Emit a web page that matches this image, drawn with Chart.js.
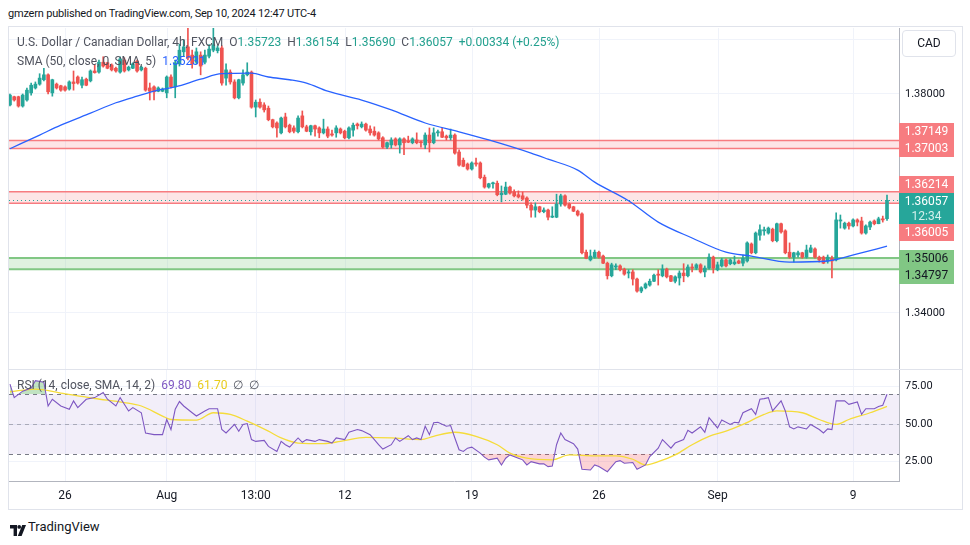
<!DOCTYPE html>
<html><head><meta charset="utf-8">
<script src="https://cdn.jsdelivr.net/npm/chart.js@4.4.0/dist/chart.umd.min.js"></script>
<style>
body{margin:0;background:#fff;width:970px;height:545px;overflow:hidden;font-family:Roboto,"Liberation Sans",sans-serif;color:#131722;position:relative}
.abs{position:absolute;white-space:nowrap}
.tag{position:absolute;left:899px;width:55px;height:17px;line-height:17px;font-size:12px;color:#fff;text-align:center}
.hl{position:absolute;background:#e0e3eb}
</style></head><body>
<div class="abs" style="left:8px;top:7px;font-size:11px;letter-spacing:-0.2px;color:#131722">gmzern published on TradingView.com, Sep 10, 2024 12:47 UTC-4</div>
<div class="abs" style="left:8px;top:26px;width:955px;height:484px;border:1px solid #e0e3eb;box-sizing:border-box"></div>
<div class="abs" style="left:9px;top:28px;width:953px;height:342px"><canvas id="c1" width="953" height="342"></canvas></div>
<div class="hl" style="left:9px;top:369px;width:953px;height:1px"></div>
<div class="abs" style="left:9px;top:370px;width:953px;height:139px"><canvas id="c2" width="953" height="139"></canvas></div>

<div class="abs" style="left:17px;top:35px;font-size:12px;color:#50535e">U.S. Dollar / Canadian Dollar, 4h, FXCM&nbsp;&nbsp;O<span style="color:#22a08e">1.35723</span>&nbsp;&nbsp;H<span style="color:#22a08e">1.36154</span>&nbsp;&nbsp;L<span style="color:#22a08e">1.35690</span>&nbsp;&nbsp;C<span style="color:#22a08e">1.36057</span>&nbsp;&nbsp;<span style="color:#22a08e">+0.00334 (+0.25%)</span></div>
<div class="abs" style="left:17px;top:54px;font-size:12px;color:#50535e">SMA (50, close, 0, SMA, 5)&nbsp;&nbsp;<span style="color:#2962ff">1.35231</span></div>
<div class="abs" style="left:17px;top:378px;font-size:12px;color:#50535e">RSI (14, close, SMA, 14, 2)&nbsp;&nbsp;<span style="color:#7e57c2">69.80</span>&nbsp;&nbsp;<span style="color:#e8cc1c">61.70</span>&nbsp;&nbsp;∅&nbsp;&nbsp;∅</div>

<div class="abs" style="left:902px;top:30px;width:54px;height:27px;border:1px solid #e0e3eb;border-radius:4px;box-sizing:border-box;font-size:12px;line-height:25px;text-align:center">CAD</div>

<div class="tag" style="top:123px;background:#f77c80">1.37149</div>
<div class="tag" style="top:140px;background:#f77c80">1.37003</div>
<div class="tag" style="top:176px;background:#f77c80">1.36214</div>
<div class="tag" style="top:193px;height:31px;background:#26a69a;line-height:15px;padding-top:1px;box-sizing:border-box">1.36057<br><span style="color:#d3f0ec">12:34</span></div>
<div class="tag" style="top:224px;background:#f77c80">1.36005</div>
<div class="tag" style="top:250px;background:#81c784;color:#131722">1.35006</div>
<div class="tag" style="top:267px;background:#81c784;color:#131722">1.34797</div>

<div class="abs" style="left:10px;top:521px"><svg width="16" height="11" viewBox="0 0 16 11"><path d="M0 0h7v11H3.6V3.4H0z" fill="#131722"/><circle cx="9.2" cy="1.9" r="1.9" fill="#131722"/><path d="M12.2 0h3.8l-4.4 11H7.8z" fill="#131722"/></svg></div>
<div class="abs" style="left:28px;top:519px;font-size:13px;color:#131722">TradingView</div>

<script>
// ---------- data ----------
const candleOpen = [
1.3780,1.3795,1.3795,1.3778,1.3789,1.3802,1.3811,1.3818,1.3826,1.3835,
1.3802,1.3818,1.3815,1.3813,1.3809,1.3822,1.3831,1.3816,1.3827,1.3824,
1.3842,1.3840,1.3858,1.3857,1.3853,1.3847,1.3840,1.3862,1.3844,1.3847,
1.3860,1.3844,1.3847,1.3811,1.3813,1.3805,1.3805,1.3802,1.3831,1.3813,
1.3855,1.3877,1.3886,1.3871,1.3858,1.3871,1.3858,1.3869,1.3880,1.3879,
1.3884,1.3829,1.3840,1.3822,1.3793,1.3820,1.3835,1.3840,1.3776,1.3785,
1.3780,1.3774,1.3753,1.3747,1.3729,1.3758,1.3743,1.3738,1.3731,1.3760,
1.3740,1.3731,1.3742,1.3738,1.3729,1.3736,1.3727,1.3729,1.3736,1.3732,
1.3720,1.3734,1.3745,1.3740,1.3745,1.3736,1.3732,1.3729,1.3720,1.3703,
1.3707,1.3718,1.3707,1.3718,1.3714,1.3711,1.3716,1.3712,1.3707,1.3725,
1.3711,1.3729,1.3731,1.3723,1.3720,1.3725,1.3694,1.3679,1.3672,1.3663,
1.3674,1.3674,1.3648,1.3630,1.3636,1.3637,1.3616,1.3617,1.3630,1.3621,
1.3616,1.3614,1.3610,1.3597,1.3588,1.3594,1.3585,1.3588,1.3575,1.3575,
1.3599,1.3614,1.3599,1.3594,1.3586,1.3581,1.3511,1.3497,1.3502,1.3511,
1.3504,1.3491,1.3468,1.3484,1.3486,1.3480,1.3473,1.3475,1.3462,1.3440,
1.3446,1.3451,1.3458,1.3471,1.3468,1.3480,1.3468,1.3458,1.3464,1.3473,
1.3468,1.3484,1.3482,1.3488,1.3475,1.3482,1.3502,1.3479,1.3486,1.3497,
1.3490,1.3490,1.3495,1.3491,1.3495,1.3526,1.3510,1.3542,1.3550,1.3546,
1.3553,1.3532,1.3563,1.3550,1.3511,1.3502,1.3506,1.3510,1.3502,1.3511,
1.3517,1.3502,1.3502,1.3495,1.3500,1.3497,1.3568,1.3555,1.3564,1.3559,
1.3570,1.3568,1.3546,1.3557,1.3568,1.3563,1.3572,1.35723];
const candleHigh = [
1.3800,1.3796,1.3796,1.3800,1.3811,1.3820,1.3822,1.3837,1.3847,1.3837,
1.3827,1.3820,1.3816,1.3815,1.3824,1.3842,1.3833,1.3831,1.3829,1.3844,
1.3853,1.3862,1.3868,1.3858,1.3855,1.3849,1.3868,1.3866,1.3851,1.3857,
1.3862,1.3851,1.3849,1.3820,1.3815,1.3813,1.3811,1.3833,1.3835,1.3862,
1.3891,1.3899,1.3922,1.3880,1.3884,1.3877,1.3880,1.3890,1.3921,1.3888,
1.3888,1.3855,1.3844,1.3826,1.3827,1.3844,1.3857,1.3842,1.3789,1.3791,
1.3784,1.3778,1.3754,1.3749,1.3758,1.3765,1.3745,1.3742,1.3760,1.3769,
1.3743,1.3743,1.3743,1.3740,1.3754,1.3740,1.3734,1.3742,1.3738,1.3734,
1.3740,1.3747,1.3747,1.3749,1.3747,1.3742,1.3740,1.3731,1.3722,1.3712,
1.3720,1.3720,1.3720,1.3720,1.3723,1.3720,1.3729,1.3714,1.3729,1.3738,
1.3738,1.3734,1.3738,1.3725,1.3736,1.3727,1.3698,1.3683,1.3674,1.3676,
1.3683,1.3676,1.3652,1.3637,1.3639,1.3641,1.3632,1.3639,1.3632,1.3625,
1.3623,1.3621,1.3612,1.3601,1.3601,1.3595,1.3592,1.3590,1.3594,1.3617,
1.3617,1.3616,1.3601,1.3595,1.3588,1.3583,1.3515,1.3515,1.3515,1.3513,
1.3506,1.3493,1.3491,1.3490,1.3488,1.3482,1.3479,1.3479,1.3464,1.3448,
1.3455,1.3462,1.3471,1.3479,1.3488,1.3482,1.3469,1.3468,1.3477,1.3490,
1.3488,1.3490,1.3490,1.3490,1.3486,1.3508,1.3504,1.3493,1.3500,1.3499,
1.3499,1.3504,1.3497,1.3506,1.3530,1.3528,1.3548,1.3561,1.3557,1.3557,
1.3555,1.3564,1.3564,1.3552,1.3528,1.3511,1.3513,1.3511,1.3524,1.3524,
1.3519,1.3504,1.3504,1.3506,1.3504,1.3583,1.3579,1.3566,1.3566,1.3572,
1.3572,1.3575,1.3561,1.3568,1.3570,1.3575,1.3577,1.36154];
const candleLow = [
1.3778,1.3787,1.3776,1.3776,1.3787,1.3798,1.3809,1.3816,1.3824,1.3800,
1.3796,1.3809,1.3805,1.3805,1.3807,1.3807,1.3818,1.3811,1.3815,1.3822,
1.3838,1.3838,1.3849,1.3846,1.3842,1.3840,1.3838,1.3840,1.3842,1.3846,
1.3840,1.3842,1.3805,1.3789,1.3789,1.3804,1.3804,1.3793,1.3811,1.3793,
1.3851,1.3869,1.3862,1.3847,1.3855,1.3835,1.3855,1.3866,1.3877,1.3875,
1.3816,1.3816,1.3818,1.3791,1.3791,1.3816,1.3833,1.3774,1.3758,1.3774,
1.3767,1.3751,1.3738,1.3721,1.3727,1.3738,1.3729,1.3729,1.3729,1.3738,
1.3731,1.3725,1.3723,1.3720,1.3727,1.3720,1.3723,1.3721,1.3727,1.3718,
1.3718,1.3723,1.3736,1.3738,1.3732,1.3725,1.3723,1.3716,1.3701,1.3700,
1.3701,1.3705,1.3692,1.3689,1.3711,1.3709,1.3709,1.3703,1.3700,1.3694,
1.3709,1.3723,1.3720,1.3716,1.3716,1.3690,1.3668,1.3667,1.3661,1.3661,
1.3668,1.3645,1.3628,1.3628,1.3628,1.3614,1.3603,1.3616,1.3617,1.3612,
1.3610,1.3606,1.3592,1.3575,1.3575,1.3583,1.3583,1.3570,1.3574,1.3574,
1.3595,1.3595,1.3590,1.3585,1.3577,1.3508,1.3499,1.3495,1.3500,1.3500,
1.3490,1.3462,1.3466,1.3479,1.3477,1.3469,1.3464,1.3451,1.3438,1.3437,
1.3444,1.3449,1.3457,1.3451,1.3466,1.3464,1.3457,1.3455,1.3451,1.3457,
1.3466,1.3475,1.3479,1.3473,1.3466,1.3480,1.3473,1.3477,1.3484,1.3484,
1.3488,1.3488,1.3490,1.3486,1.3493,1.3508,1.3508,1.3533,1.3542,1.3544,
1.3530,1.3530,1.3546,1.3508,1.3500,1.3493,1.3502,1.3500,1.3500,1.3510,
1.3500,1.3493,1.3490,1.3491,1.3464,1.3495,1.3555,1.3553,1.3553,1.3557,
1.3559,1.3544,1.3544,1.3552,1.3561,1.3563,1.3566,1.35690];
const candleClose = [
1.3798,1.3789,1.3778,1.3798,1.3807,1.3816,1.3818,1.3829,1.3835,1.3804,
1.3826,1.3811,1.3807,1.3807,1.3822,1.3819,1.3820,1.3826,1.3816,1.3842,
1.3839,1.3858,1.3851,1.3847,1.3844,1.3842,1.3864,1.3842,1.3849,1.3855,
1.3842,1.3849,1.3807,1.3805,1.3804,1.3811,1.3809,1.3831,1.3813,1.3857,
1.3880,1.3886,1.3866,1.3855,1.3877,1.3851,1.3871,1.3882,1.3890,1.3884,
1.3820,1.3844,1.3822,1.3793,1.3826,1.3835,1.3840,1.3776,1.3785,1.3776,
1.3771,1.3753,1.3740,1.3738,1.3756,1.3740,1.3731,1.3732,1.3756,1.3740,
1.3732,1.3742,1.3736,1.3729,1.3736,1.3723,1.3725,1.3738,1.3729,1.3720,
1.3738,1.3743,1.3742,1.3745,1.3734,1.3729,1.3725,1.3718,1.3703,1.3711,
1.3716,1.3707,1.3718,1.3711,1.3712,1.3718,1.3711,1.3711,1.3725,1.3711,
1.3729,1.3731,1.3721,1.3720,1.3725,1.3692,1.3670,1.3668,1.3663,1.3674,
1.3672,1.3647,1.3630,1.3636,1.3637,1.3616,1.3619,1.3630,1.3619,1.3614,
1.3612,1.3608,1.3597,1.3588,1.3594,1.3585,1.3588,1.3575,1.3577,1.3599,
1.3614,1.3597,1.3592,1.3586,1.3579,1.3510,1.3500,1.3504,1.3511,1.3502,
1.3491,1.3468,1.3488,1.3486,1.3479,1.3471,1.3475,1.3462,1.3440,1.3446,
1.3453,1.3458,1.3469,1.3469,1.3480,1.3466,1.3458,1.3466,1.3473,1.3468,
1.3484,1.3482,1.3488,1.3475,1.3482,1.3502,1.3482,1.3488,1.3497,1.3486,
1.3497,1.3493,1.3491,1.3500,1.3528,1.3510,1.3546,1.3552,1.3552,1.3555,
1.3532,1.3563,1.3548,1.3510,1.3502,1.3510,1.3510,1.3502,1.3515,1.3519,
1.3502,1.3497,1.3491,1.3502,1.3495,1.3570,1.3570,1.3564,1.3559,1.3570,
1.3566,1.3546,1.3559,1.3566,1.3563,1.3572,1.3570,1.36057];

const smaIdx = [0,7,12,19,25,30,35,39,45,50,57,61,66,70,75,83,90,98,106,113,123,127,134,138,146,153,161,169,175,184,193,200,207];
const smaVal = [1.3700,1.3725,1.3743,1.3765,1.3784,1.3796,1.3807,1.3813,1.3827,1.3837,1.3838,1.3831,1.3826,1.3820,1.3805,1.3789,1.3771,1.3747,1.3731,1.3716,1.3692,1.3681,1.3661,1.3639,1.3605,1.3566,1.3537,1.3511,1.3504,1.3493,1.3495,1.3508,1.3522];

const rsiIdx = [0,1,3,5,6,8,9,10,12,14,15,16,18,20,22,23,25,26,28,29,31,32,34,36,37,38,39,40,41,43,44,46,47,49,50,51,53,54,55,56,57,58,60,61,63,64,65,66,68,69,70,72,73,75,76,77,79,80,82,83,85,86,87,88,90,91,92,94,95,96,97,98,99,100,101,103,104,105,106,107,108,109,111,112,113,115,116,117,118,120,121,122,123,125,126,127,128,129,130,131,133,134,135,137,138,139,141,143,144,145,147,148,150,151,153,154,156,157,159,160,161,163,164,165,167,168,170,171,172,173,175,176,177,178,179,180,182,183,184,185,186,188,189,191,192,193,194,195,197,198,200,201,202,204,205,206,207];
const rsiVal = [76.6,67.6,71.9,74,78.9,77.8,62,66.5,62,59.8,65.4,60.9,66.5,67.6,71,66.5,62,67.6,58.7,60.9,57.5,44,42.9,42.9,53,46.3,59.8,65,62,57.5,55.3,58.7,60.2,60.2,46.3,44,49.7,45.2,49.7,50.3,39.6,38.4,39.1,35.1,31.7,38.4,36.2,34.6,40.7,37.8,39.6,38.4,39.6,38.4,37.3,40.7,39.6,44.5,46.3,45.6,42.9,39.6,36.2,33.3,36.2,40.7,38.4,42.2,39.6,40.7,39.6,48.5,42.9,50.8,51.2,48.5,49,40.7,32.8,31.7,33.9,34.6,30.6,27.9,26.1,27.2,22.7,27.2,29.4,27.2,26.1,22.7,24.9,23.4,23.4,21.6,22,36.2,44,39.6,36.9,33.3,19.8,19.3,22.7,21.6,18.2,24.9,25.6,23.8,24.3,19.8,22.7,28.3,33.9,39.6,33.9,37.3,39.6,45.8,44,48.1,44.5,54.2,47.4,52.6,49.7,51.2,50.8,57.5,60.2,56.4,66.5,66.9,67.6,58.7,65.4,58.7,48.1,46.7,48.1,46.7,49.7,46.3,44,46.7,46.3,65.4,65.4,63.1,64.7,56.4,60.2,60.2,61.6,62.5,69.8];

const rsiMaIdx = [0,6,12,20,27,31,36,38,44,48,52,56,61,64,68,74,78,84,90,97,100,105,110,115,118,122,128,132,138,143,147,150,153,157,161,165,169,173,178,181,187,191,195,198,203,207];
const rsiMaVal = [71.5,73.3,70.6,67,64.3,62,55.3,53,52.6,57.5,56.4,51.9,45.2,40.7,37.3,36.9,38.4,41.1,40.7,39.6,41.8,44.5,41.8,36.2,30.6,27.2,26.1,29.4,28.8,28.8,26.5,22.7,24.9,29.4,36.2,41.8,45.2,49.7,56.4,58.7,57.5,53,49.7,53,57.5,61.7];

const zoneLow  = [1.37003, 1.36005, 1.34797];
const zoneHigh = [1.37149, 1.36214, 1.35006];
const zoneKind = ['res', 'res', 'sup'];
const lastPrice = 1.36057;

const timeTickIdx = [13, 37, 58, 79, 109, 139, 167, 199];
const timeTickLbl = ['26', 'Aug', '13:00', '12', '19', '26', 'Sep', '9'];
const priceTicks = [1.34, 1.35, 1.36, 1.37, 1.38, 1.39];
const priceTickShown = [1.34, 1.38];
const rsiTicks = [25, 50, 75];

// ---------- styling ----------
const UP = '#26a69a', DOWN = '#ef5350';
const GRID = '#f0f3fa';
const XMIN = -0.23, XMAX = 209.83;
const FONT = {family: 'Roboto', size: 11};

const colors = candleClose.map((c, i) => c >= candleOpen[i] ? UP : DOWN);
const wickData = candleOpen.map((o, i) => ({x: i, y: [candleLow[i], candleHigh[i]]}));
const bodyData = candleOpen.map((o, i) => ({x: i, y: [o, candleClose[i]]}));
const smaData = smaIdx.map((x, k) => ({x, y: smaVal[k]}));
const rsiData = rsiIdx.map((x, k) => ({x, y: rsiVal[k]}));
const rsiMaData = rsiMaIdx.map((x, k) => ({x, y: rsiMaVal[k]}));

const noPad = s => { s.paddingTop = 0; s.paddingBottom = 0; s.paddingLeft = 0; s.paddingRight = 0; };

const zonesPlugin = {
  id: 'zones',
  beforeDatasetsDraw(chart) {
    const {ctx, chartArea: a, scales: {x, y}} = chart;
    ctx.save();
    ctx.strokeStyle = GRID; ctx.lineWidth = 1;
    timeTickIdx.forEach(v => {
      const p = Math.round(x.getPixelForValue(v)) + 0.5;
      ctx.beginPath(); ctx.moveTo(p, a.top); ctx.lineTo(p, a.bottom); ctx.stroke();
    });
    zoneLow.forEach((lo, k) => {
      const t = y.getPixelForValue(zoneHigh[k]), b = y.getPixelForValue(lo);
      const sup = zoneKind[k] === 'sup';
      ctx.fillStyle = sup ? 'rgba(129,199,132,0.25)' : 'rgba(247,124,128,0.2)';
      ctx.fillRect(a.left, t, a.right - a.left, b - t);
      ctx.strokeStyle = sup ? '#81c784' : '#f77c80';
      ctx.lineWidth = sup ? 2 : 1.5;
      [t, b].forEach(p => { ctx.beginPath(); ctx.moveTo(a.left, p); ctx.lineTo(a.right, p); ctx.stroke(); });
    });
    const lp = Math.round(y.getPixelForValue(lastPrice)) + 0.5;
    ctx.strokeStyle = UP; ctx.lineWidth = 1; ctx.setLineDash([1, 3]);
    ctx.beginPath(); ctx.moveTo(a.left, lp); ctx.lineTo(a.right, lp); ctx.stroke();
    ctx.restore();
  }
};

const rsiBandPlugin = {
  id: 'rsiBand',
  beforeDatasetsDraw(chart) {
    const {ctx, chartArea: a, scales: {y}} = chart;
    ctx.save();
    const t = y.getPixelForValue(70), b = y.getPixelForValue(30);
    ctx.fillStyle = 'rgba(126,87,194,0.1)';
    ctx.fillRect(a.left, t, a.right - a.left, b - t);
    ctx.setLineDash([4, 4]); ctx.lineWidth = 1;
    [[70, '#787b86'], [50, 'rgba(120,123,134,0.55)'], [30, '#787b86']].forEach(([v, c]) => {
      const p = Math.round(y.getPixelForValue(v)) + 0.5;
      ctx.strokeStyle = c; ctx.beginPath(); ctx.moveTo(a.left, p); ctx.lineTo(a.right, p); ctx.stroke();
    });
    ctx.restore();
  }
};

Chart.defaults.font.family = 'Roboto';
Chart.defaults.color = '#131722';

new Chart(document.getElementById('c1'), {
  type: 'bar',
  data: {datasets: [
    {type: 'line', data: smaData, borderColor: '#2962ff', borderWidth: 1.3, pointRadius: 0, cubicInterpolationMode: 'monotone', order: 1},
    {data: bodyData, backgroundColor: colors, barThickness: 3, minBarLength: 1, grouped: false, borderWidth: 0, order: 2},
    {data: wickData, backgroundColor: colors, barThickness: 1, grouped: false, borderWidth: 0, order: 3}
  ]},
  options: {
    responsive: false, animation: false, devicePixelRatio: 1,
    layout: {padding: 0, autoPadding: false},
    plugins: {legend: {display: false}, tooltip: {enabled: false}},
    scales: {
      x: {type: 'linear', min: XMIN, max: XMAX, offset: false, display: false},
      y: {type: 'linear', position: 'right', min: 1.32959, max: 1.39205,
        afterBuildTicks: s => { s.ticks = priceTicks.map(v => ({value: v})); },
        afterFit: s => { s.width = 63; noPad(s); },
        ticks: {font: FONT, color: '#131722', padding: 6,
          callback: v => priceTickShown.some(p => Math.abs(p - v) < 1e-7) ? v.toFixed(5) : ''},
        grid: {color: GRID, drawTicks: false}, border: {color: '#b2b5be'}}
    }
  },
  plugins: [zonesPlugin]
});

new Chart(document.getElementById('c2'), {
  type: 'line',
  data: {datasets: [
    {data: rsiData, borderWidth: 0, pointRadius: 0, fill: {target: {value: 70}, above: 'rgba(76,175,80,0.35)', below: 'rgba(0,0,0,0)'}, order: 4},
    {data: rsiData, borderWidth: 0, pointRadius: 0, fill: {target: {value: 30}, above: 'rgba(0,0,0,0)', below: 'rgba(242,54,69,0.22)'}, order: 3},
    {data: rsiMaData, borderColor: '#f5dc3a', borderWidth: 1.3, pointRadius: 0, cubicInterpolationMode: 'monotone', fill: false, order: 2},
    {data: rsiData, borderColor: '#7e57c2', borderWidth: 1.1, pointRadius: 0, fill: false, order: 1}
  ]},
  options: {
    responsive: false, animation: false, devicePixelRatio: 1,
    layout: {padding: 0, autoPadding: false},
    plugins: {legend: {display: false}, tooltip: {enabled: false}},
    scales: {
      x: {type: 'linear', min: XMIN, max: XMAX, offset: false,
        afterBuildTicks: s => { s.ticks = timeTickIdx.map(v => ({value: v})); },
        afterFit: s => { s.height = 28; noPad(s); },
        ticks: {autoSkip: false, maxRotation: 0, padding: 8, font: {family: 'Roboto', size: 12}, color: '#131722',
          callback: v => { const k = timeTickIdx.indexOf(v); return k >= 0 ? timeTickLbl[k] : ''; }},
        grid: {color: GRID, drawTicks: false}, border: {color: '#b2b5be'}},
      y: {type: 'linear', position: 'right', min: 12, max: 86,
        afterBuildTicks: s => { s.ticks = rsiTicks.map(v => ({value: v})); },
        afterFit: s => { s.width = 63; noPad(s); },
        ticks: {font: FONT, color: '#131722', padding: 6, callback: v => v.toFixed(2)},
        grid: {color: GRID, drawTicks: false}, border: {color: '#b2b5be'}}
    }
  },
  plugins: [rsiBandPlugin]
});
</script>
</body></html>
